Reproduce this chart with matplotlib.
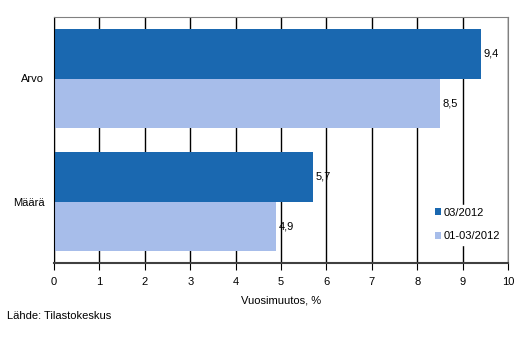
import matplotlib
matplotlib.use("Agg")
import matplotlib.pyplot as plt

categories = ["Määrä", "Arvo"]
series_names = ["03/2012", "01-03/2012"]
vals_month = [5.7, 9.4]
vals_period = [4.9, 8.5]
labels_month = ["5,7", "9,4"]
labels_period = ["4,9", "8,5"]
xticks = list(range(0, 11))

dark = "#1a68b0"
light = "#a7bdea"

plt.rcParams["font.family"] = ["Liberation Sans", "DejaVu Sans"]
plt.rcParams["font.size"] = 8

fig = plt.figure(figsize=(5.32, 3.58), dpi=100)
ax = fig.add_axes([54 / 532, 1 - 263 / 358, (508 - 54) / 532, (263 - 17) / 358])

y = list(range(len(categories)))
h = 0.4
b1 = ax.barh([v + h / 2 for v in y], vals_month, height=h, color=dark, label=series_names[0], zorder=2)
b2 = ax.barh([v - h / 2 for v in y], vals_period, height=h, color=light, label=series_names[1], zorder=2)

# value labels just right of bar ends
for bar, txt in zip(b1, labels_month):
    ax.text(bar.get_width() + 0.06, bar.get_y() + bar.get_height() / 2, txt,
            va="center", ha="left", fontsize=8)
for bar, txt in zip(b2, labels_period):
    ax.text(bar.get_width() + 0.06, bar.get_y() + bar.get_height() / 2, txt,
            va="center", ha="left", fontsize=8)

ax.set_xlim(0, 10)
ax.set_ylim(-0.5, 1.5)
ax.set_xticks(xticks)
ax.set_yticks(y)
ax.set_yticklabels(categories)
ax.tick_params(axis="y", length=0, pad=7)
ax.tick_params(axis="x", length=5, direction="out", color="black", pad=5)
ax.xaxis.grid(True, color="black", linewidth=1)
ax.set_axisbelow(True)

for s in ["top", "right"]:
    ax.spines[s].set_color("#808080")
ax.spines["left"].set_color("black")
ax.spines["bottom"].set_color("#404040")
ax.spines["bottom"].set_linewidth(1.5)

ax.set_xlabel("Vuosimuutos, %", fontsize=8, labelpad=6)

leg = ax.legend(loc="lower right", bbox_to_anchor=(0.99, 0.075), frameon=True,
                fontsize=8, handlelength=0.6, handleheight=0.6, handletextpad=0.2,
                labelspacing=1.2, borderpad=0.3, borderaxespad=0)
leg.get_frame().set_edgecolor("white")
leg.get_frame().set_facecolor("white")
leg.get_frame().set_alpha(1)

fig.text(7 / 532, 1 - 316 / 358, "Lähde: Tilastokeskus", fontsize=8, va="center", ha="left")

fig.savefig("out.png", dpi=100)
